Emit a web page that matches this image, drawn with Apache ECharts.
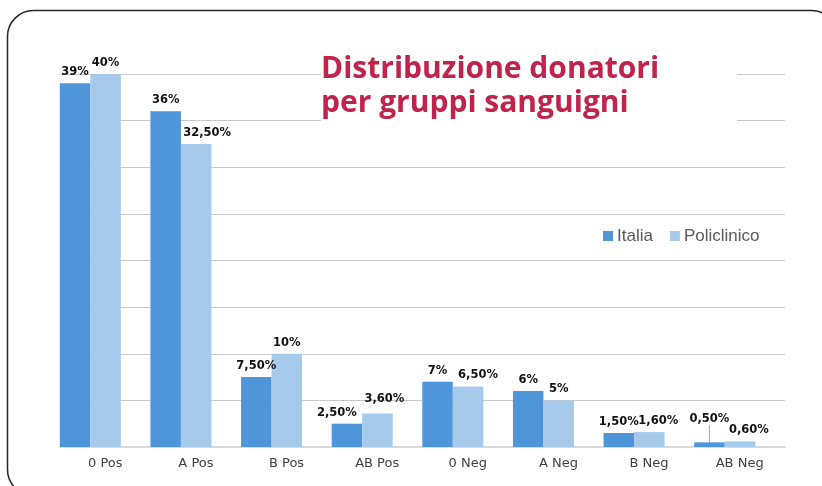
<!DOCTYPE html>
<html>
<head>
<meta charset="utf-8">
<script src="https://cdn.jsdelivr.net/npm/echarts@6/dist/echarts.min.js"></script>
<style>
html,body{margin:0;padding:0;background:#fff;}
#chart{width:822px;height:486px;}
</style>
</head>
<body>
<div id="chart"></div>
<script>
const categories = ['0 Pos', 'A Pos', 'B Pos', 'AB Pos', '0 Neg', 'A Neg', 'B Neg', 'AB Neg'];
const seriesNames = ['Italia', 'Policlinico'];
const italia = [39, 36, 7.5, 2.5, 7, 6, 1.5, 0.5];
const policlinico = [40, 32.5, 10, 3.6, 6.5, 5, 1.6, 0.6];
const yMin = 0, yMax = 40, yStep = 5;
const titleText = 'Distribuzione donatori\nper gruppi sanguigni';

// label nudges (style only), like the original overlap-avoidance
const italiaLabelShift = {3: {dx: -10, dy: 0}, 7: {dx: 0, dy: -12}};
const policlinicoLabelShift = {1: {dx: 11, dy: 0}, 3: {dx: 7, dy: -3}, 4: {dx: 10, dy: 0}, 6: {dx: 9, dy: 0}, 7: {dx: 9, dy: 0}};
const italiaLeaderIndex = 7;

function fmt(v) {
  return (Number.isInteger(v) ? String(v) : v.toFixed(2).replace('.', ',')) + '%';
}
const labelFont = {fontFamily: 'DejaVu Sans', fontWeight: 'bold', fontSize: 11.5, color: '#111'};

const italiaData = italia.map((v, i) => i === italiaLeaderIndex
  ? {value: v, labelLine: {show: true, lineStyle: {color: '#A6A6A6', width: 1}}}
  : v);

const chart = echarts.init(document.getElementById('chart'), null, {renderer: 'canvas'});
chart.setOption({
  animation: false,
  backgroundColor: '#fff',
  title: {
    text: titleText,
    left: 321, top: 52, padding: 0, z: 12,
    textStyle: {fontFamily: 'Open Sans', fontWeight: 700, fontSize: 30, lineHeight: 34, color: '#C0234B'}
  },
  graphic: [
    {type: 'rect', z: 1, silent: true, shape: {x: 7.5, y: 10.5, width: 830, height: 485, r: 26},
     style: {fill: 'none', stroke: '#262626', lineWidth: 1.5}},
    {type: 'rect', z: 10, silent: true, shape: {x: 321, y: 46, width: 416, height: 78},
     style: {fill: '#fff'}}
  ],
  legend: {
    data: seriesNames,
    left: 603, top: 226, padding: 0,
    itemWidth: 10, itemHeight: 10, itemGap: 17,
    icon: 'rect',
    textStyle: {fontFamily: 'Liberation Sans', fontSize: 17, color: '#595959', lineHeight: 20, padding: [0, 0, 0, -1]}
  },
  grid: [
    {left: 45, right: 52, top: 74, bottom: 39},
    {left: 60, right: 37, top: 74, bottom: 39}
  ],
  xAxis: [
    {type: 'category', gridIndex: 0, data: categories, show: false},
    {type: 'category', gridIndex: 1, data: categories,
     axisLine: {lineStyle: {color: '#D9D9D9', width: 2}}, axisTick: {show: false},
     axisLabel: {margin: 10, fontFamily: 'DejaVu Sans', fontSize: 13, color: '#404040'}}
  ],
  yAxis: [
    {type: 'value', gridIndex: 0, min: yMin, max: yMax, interval: yStep, show: false},
    {type: 'value', gridIndex: 1, min: yMin, max: yMax, interval: yStep,
     axisLine: {show: false}, axisTick: {show: false}, axisLabel: {show: false},
     splitLine: {lineStyle: {color: '#C8C8C8', width: 1}}}
  ],
  series: [
    {name: seriesNames[0], type: 'bar', xAxisIndex: 0, yAxisIndex: 0, data: italiaData,
     barWidth: 30.5, barGap: '0%', itemStyle: {color: '#4E95D9'},
     label: Object.assign({show: true, position: 'top', distance: 5, formatter: p => fmt(p.value)}, labelFont),
     labelLine: {show: false},
     labelLayout: p => italiaLabelShift[p.dataIndex] || {}},
    {name: seriesNames[1], type: 'bar', xAxisIndex: 0, yAxisIndex: 0, data: policlinico,
     barWidth: 30.5, barGap: '0%', itemStyle: {color: '#A6CAEC'},
     label: Object.assign({show: true, position: 'top', distance: 5, formatter: p => fmt(p.value)}, labelFont),
     labelLine: {show: false},
     labelLayout: p => policlinicoLabelShift[p.dataIndex] || {}}
  ]
});
</script>
</body>
</html>
